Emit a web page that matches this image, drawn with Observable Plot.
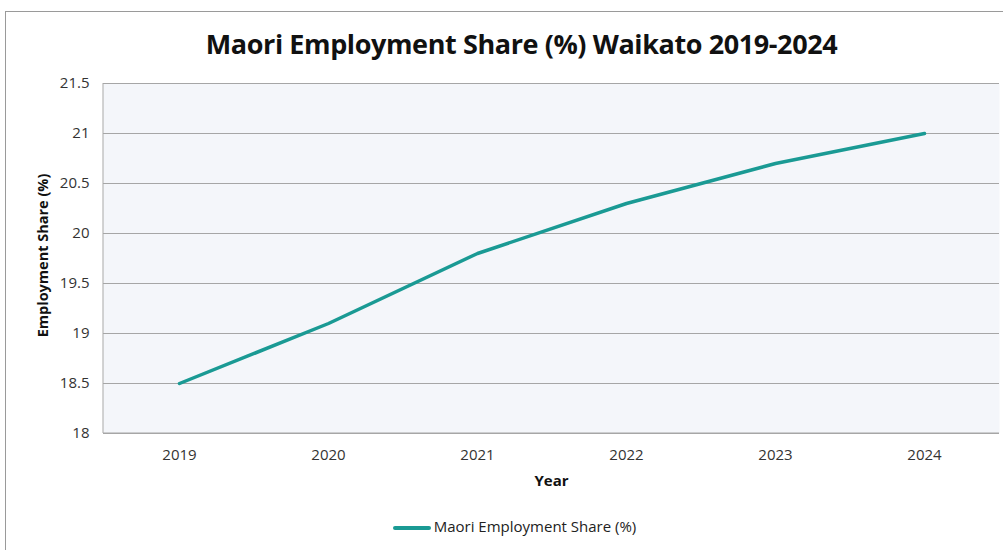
<!DOCTYPE html>
<html><head><meta charset="utf-8">
<script src="https://cdn.jsdelivr.net/npm/d3@7"></script>
<script src="https://cdn.jsdelivr.net/npm/@observablehq/plot@0.6"></script>
<style>
body{margin:0;background:#fff;font-family:"Open Sans",sans-serif;}
#wrap{position:relative;width:1003px;height:550px;overflow:hidden;}
#border{position:absolute;left:5px;top:11px;width:1100px;height:600px;border:1px solid #9a9a9a;}
#title{position:absolute;left:20px;top:25px;width:1003px;text-align:center;font-size:27px;font-weight:700;color:#111;letter-spacing:-0.4px;}
#chart{position:absolute;left:0;top:60px;}
#legend{position:absolute;left:13px;top:516px;width:1003px;text-align:center;font-size:15px;color:#222;}
#legend .sw{display:inline-block;width:38px;height:4px;background:#1a9a94;vertical-align:middle;margin-right:3px;border-radius:2px;}
</style></head>
<body><div id="wrap"><div id="border"></div><div id="title">Maori Employment Share (%) Waikato 2019-2024</div><div id="chart"></div>
<div id="legend"><span class="sw"></span>Maori Employment Share (%)</div></div>
<script>
const years = ["2019","2020","2021","2022","2023","2024"];
const shares = [18.5, 19.1, 19.8, 20.3, 20.7, 21.0];
const yTicks = [18, 18.5, 19, 19.5, 20, 20.5, 21, 21.5];
const data = years.map((y,i)=>({year:y, share:shares[i]}));
const chart = Plot.plot({
  width: 1003, height: 450,
  marginLeft: 103, marginRight: 4, marginTop: 23, marginBottom: 77,
  style: {fontFamily: "Open Sans, sans-serif", fontSize: "15px", color: "#333", background: "transparent"},
  x: {type: "point", domain: years, padding: 0.5, label: null},
  y: {domain: [18, 21.5], ticks: yTicks, label: null},
  marks: [
    Plot.frame({fill: "#f4f6fa", stroke: null}),
    Plot.gridY(yTicks, {stroke: "#a6a6a6", strokeOpacity: 1, strokeWidth: 1}),
    Plot.axisY({ticks: yTicks, tickSize: 0, tickPadding: 14, tickFormat: d => String(d), fontSize: 15, label: null}),
    Plot.axisX({tickSize: 0, tickPadding: 16, fontSize: 15, label: null}),
    Plot.line(data, {x: "year", y: "share", stroke: "#1a9a94", strokeWidth: 3.5}),
    Plot.text(["Year"], {frameAnchor: "bottom", dy: 52, fontWeight: "bold", fontSize: 15, fill: "#111"}),
    Plot.text(["Employment Share (%)"], {frameAnchor: "left", textAnchor: "middle", dx: -60, dy: -3, rotate: -90, fontWeight: "bold", fontSize: 14.5, fill: "#111"})
  ]
});
d3.select(chart).append("line").attr("x1",103).attr("x2",103).attr("y1",23).attr("y2",373).attr("stroke","#a6a6a6");
d3.select(chart).append("line").attr("x1",103).attr("x2",999).attr("y1",373).attr("y2",373).attr("stroke","#a6a6a6");
document.getElementById("chart").appendChild(chart);
</script></body></html>
